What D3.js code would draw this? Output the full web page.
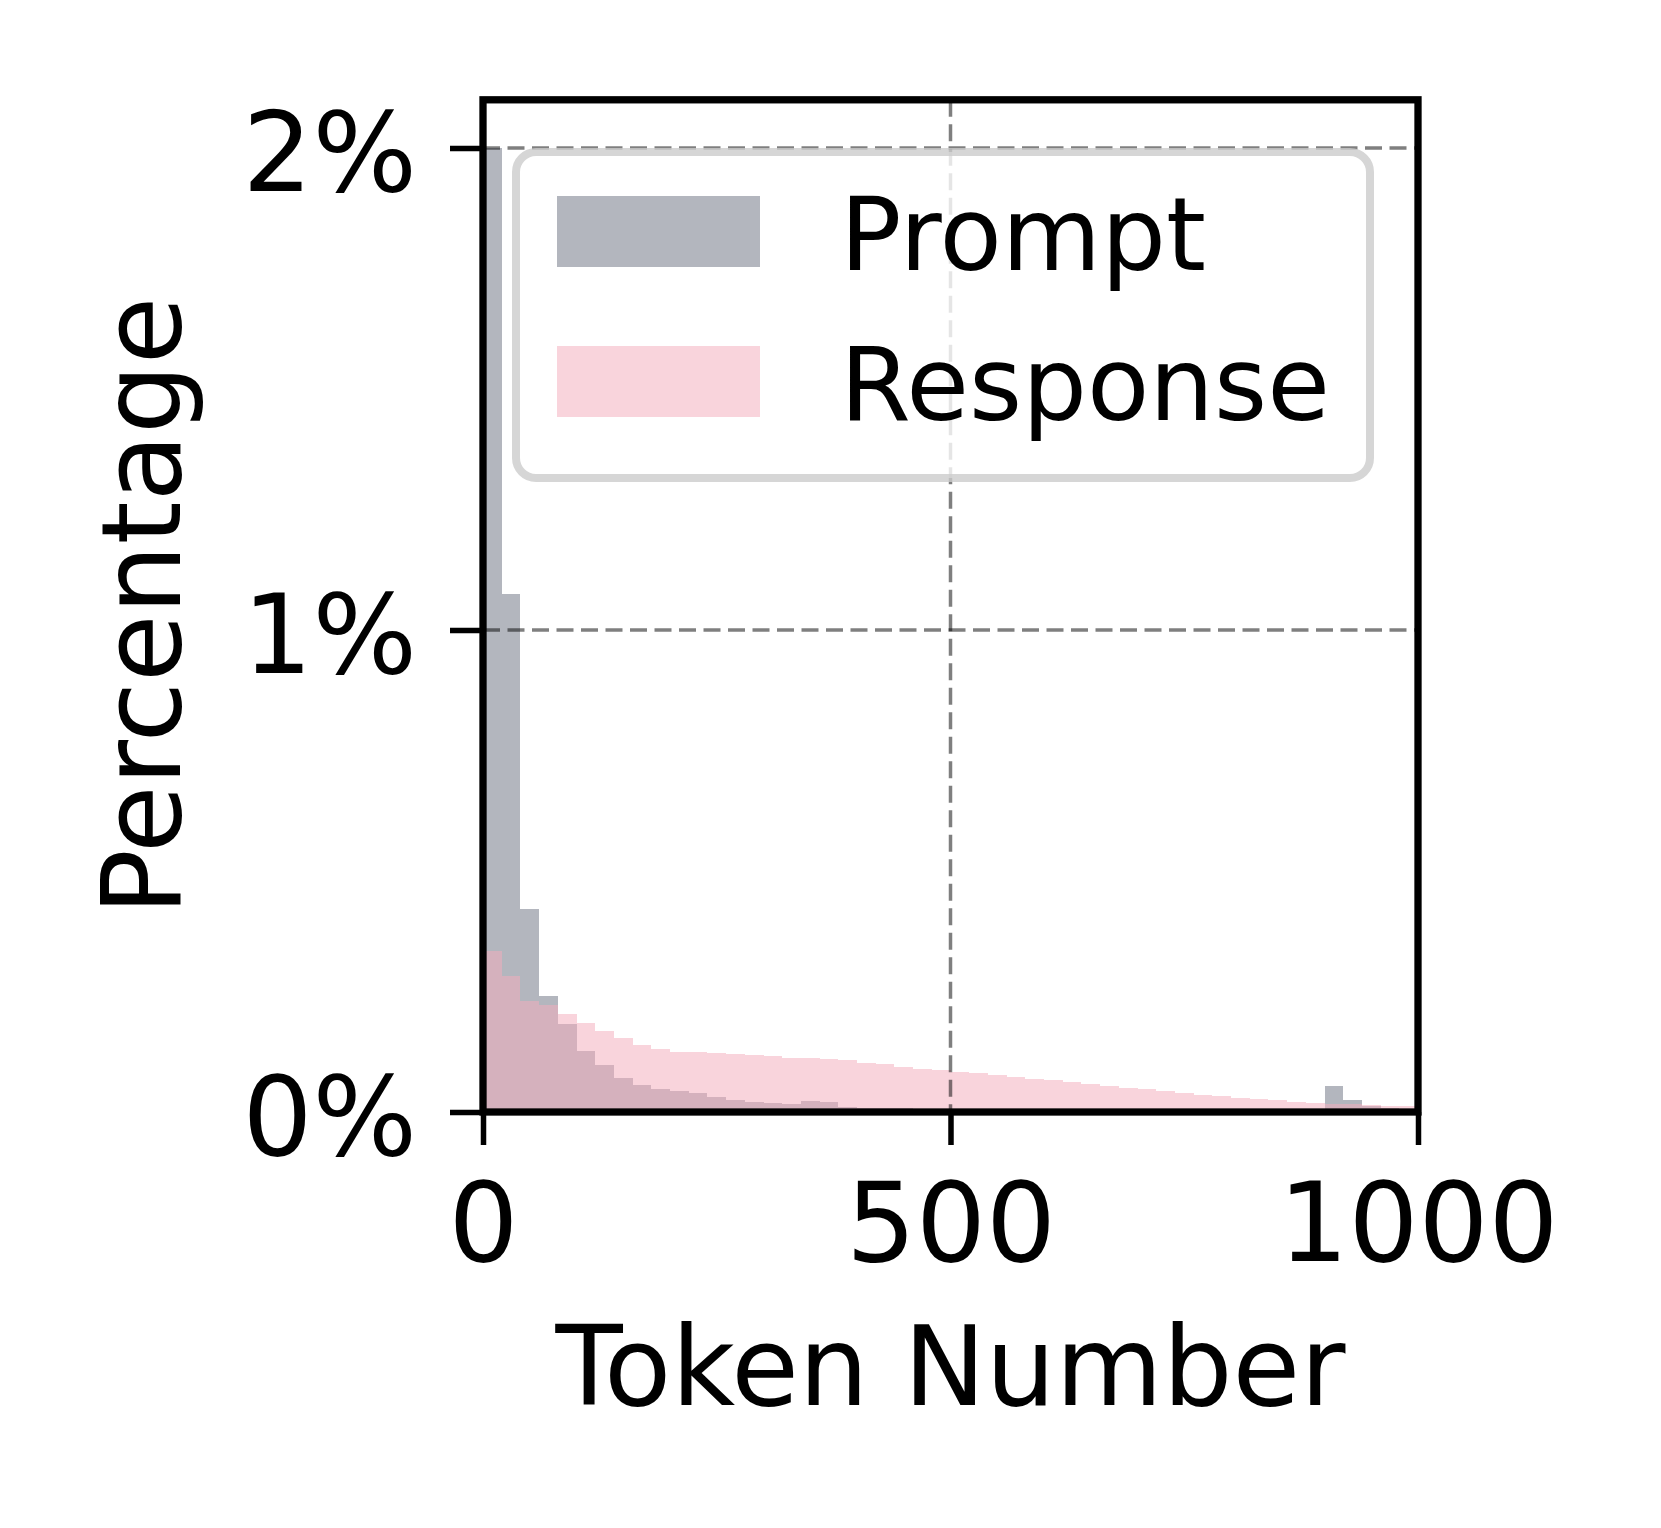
<!DOCTYPE html>
<html>
<head>
<meta charset="utf-8">
<script src="https://cdn.jsdelivr.net/npm/d3@7"></script>
<style>
  html, body { margin: 0; padding: 0; background: #fff; }
  svg { display: block; font-family: "DejaVu Sans", sans-serif; }
</style>
</head>
<body>
<svg id="chart" width="1661" height="1528"></svg>
<script>
// ---- Data (density in %, bins of 20 tokens from 0 to 1000) ----
const binEdges = d3.range(0, 1001, 20);
const promptPct = [2.0, 1.075, 0.422, 0.241, 0.183, 0.127, 0.097, 0.071, 0.057, 0.048,
  0.043, 0.040, 0.031, 0.024, 0.021, 0.018, 0.016, 0.022, 0.021, 0.011,
  0.009, 0.008, 0.009, 0.007, 0.006, 0.004, 0.006, 0.004, 0.004, 0.003,
  0.003, 0.003, 0.003, 0.003, 0.003, 0.003, 0.004, 0.006, 0.003, 0.003,
  0.003, 0.002, 0.002, 0.002, 0.002, 0.053, 0.025, 0.012, 0.008, 0.005];
const responsePct = [0.335, 0.283, 0.230, 0.222, 0.204, 0.185, 0.168, 0.153, 0.140, 0.130,
  0.125, 0.124, 0.122, 0.120, 0.1185, 0.116, 0.113, 0.112, 0.110, 0.107,
  0.1025, 0.100, 0.094, 0.090, 0.087, 0.084, 0.080, 0.076, 0.073, 0.069,
  0.066, 0.062, 0.058, 0.054, 0.050, 0.047, 0.044, 0.040, 0.036, 0.033,
  0.029, 0.026, 0.024, 0.021, 0.018, 0.017, 0.016, 0.014, 0.013, 0.013];
const seriesNames = ["Prompt", "Response"];
const xTicks = [0, 500, 1000];
const yTicks = [0, 1, 2];
const yTickLabels = ["0%", "1%", "2%"];
const xLabel = "Token Number";
const yLabel = "Percentage";

(function () {
// ---- Layout ----
const svg = d3.select("#chart");
const pL = 483, pR = 1418, pT = 99.8, pB = 1112;
const x = d3.scaleLinear().domain([0, 1000]).range([pL, pR]);
const y = d3.scaleLinear().domain([0, 2.1]).range([pB, pT]);

const grayFill = "#b3b6be";
const pinkFill = "rgb(244,173,187)";
const pinkOpacity = 0.52;
const fontMain = 110, fontLegend = 102;

svg.append("defs").append("clipPath").attr("id", "plotclip")
  .append("rect").attr("x", pL).attr("y", pT)
  .attr("width", pR - pL).attr("height", pB - pT);

const plot = svg.append("g").attr("clip-path", "url(#plotclip)");

function bins(vals) {
  return vals.map((v, i) => ({ x0: binEdges[i], x1: binEdges[i + 1], v }));
}

plot.append("g").selectAll("rect").data(bins(promptPct)).join("rect")
  .attr("x", d => x(d.x0)).attr("width", d => x(d.x1) - x(d.x0))
  .attr("y", d => y(d.v)).attr("height", d => y(0) - y(d.v))
  .attr("fill", grayFill).attr("shape-rendering", "crispEdges");

plot.append("g").selectAll("rect").data(bins(responsePct)).join("rect")
  .attr("x", d => x(d.x0)).attr("width", d => x(d.x1) - x(d.x0))
  .attr("y", d => y(d.v)).attr("height", d => y(0) - y(d.v))
  .attr("fill", pinkFill).attr("fill-opacity", pinkOpacity)
  .attr("shape-rendering", "crispEdges");

// ---- Grid (drawn over bars) ----
const grid = svg.append("g").attr("clip-path", "url(#plotclip)");
grid.selectAll("line.gx").data(xTicks).join("line")
  .attr("x1", d => x(d)).attr("x2", d => x(d))
  .attr("y1", pT).attr("y2", pB)
  .attr("stroke", "#000").attr("stroke-opacity", 0.5)
  .attr("stroke-width", 3.5).attr("stroke-dasharray", "17,7.5");
grid.selectAll("line.gy").data(yTicks).join("line")
  .attr("x1", pL).attr("x2", pR)
  .attr("y1", d => y(d)).attr("y2", d => y(d))
  .attr("stroke", "#000").attr("stroke-opacity", 0.5)
  .attr("stroke-width", 3.5).attr("stroke-dasharray", "17,7.5");

// ---- Axes ----
const tickLen = 33;
const xAxis = d3.axisBottom(x).tickValues(xTicks).tickSize(tickLen).tickPadding(0).tickFormat(d3.format("d"));
const yAxis = d3.axisLeft(y).tickValues(yTicks).tickSize(tickLen).tickPadding(0)
  .tickFormat(d => yTickLabels[yTicks.indexOf(d)]);

const gx = svg.append("g").attr("transform", `translate(0,${pB})`).call(xAxis);
const gy = svg.append("g").attr("transform", `translate(${pL},0)`).call(yAxis);
[gx, gy].forEach(g => {
  g.select(".domain").remove();
  g.selectAll(".tick line").attr("stroke", "#000").attr("stroke-width", 5.5);
  g.selectAll(".tick text").attr("fill", "#000")
    .style("font-family", "'DejaVu Sans', sans-serif").style("font-size", fontMain + "px");
});
gx.selectAll(".tick text").attr("y", 149).attr("dy", null).attr("text-anchor", "middle");
gy.selectAll(".tick text").attr("x", -66).attr("dy", null).attr("y", 42).attr("text-anchor", "end");

// spines
svg.append("rect").attr("x", pL).attr("y", pT)
  .attr("width", pR - pL).attr("height", pB - pT)
  .attr("fill", "none").attr("stroke", "#000").attr("stroke-width", 7.3);

// ---- Axis labels ----
svg.append("text").attr("x", (pL + pR) / 2).attr("y", 1405)
  .attr("text-anchor", "middle").style("font-size", fontMain + "px").attr("fill", "#000")
  .text(xLabel);
svg.append("text").attr("transform", `translate(180,${(pT + pB) / 2}) rotate(-90)`)
  .attr("text-anchor", "middle").style("font-size", fontMain + "px").attr("fill", "#000")
  .text(yLabel);

// ---- Legend ----
const lg = svg.append("g");
lg.append("rect").attr("x", 516).attr("y", 152).attr("width", 1370 - 516).attr("height", 478 - 152)
  .attr("rx", 20).attr("ry", 20)
  .attr("fill", "#fff").attr("fill-opacity", 0.8)
  .attr("stroke", "#cccccc").attr("stroke-opacity", 0.8).attr("stroke-width", 8);
const legendItems = [
  { name: seriesNames[0], fill: grayFill, op: 1, y0: 196, base: 270 },
  { name: seriesNames[1], fill: pinkFill, op: pinkOpacity, y0: 346, base: 420 }
];
legendItems.forEach(it => {
  lg.append("rect").attr("x", 557).attr("y", it.y0).attr("width", 760 - 557).attr("height", 71)
    .attr("fill", it.fill).attr("fill-opacity", it.op);
  lg.append("text").attr("x", 840).attr("y", it.base).style("font-size", fontLegend + "px")
    .attr("fill", "#000").text(it.name);
});
})();
</script>
</body>
</html>
